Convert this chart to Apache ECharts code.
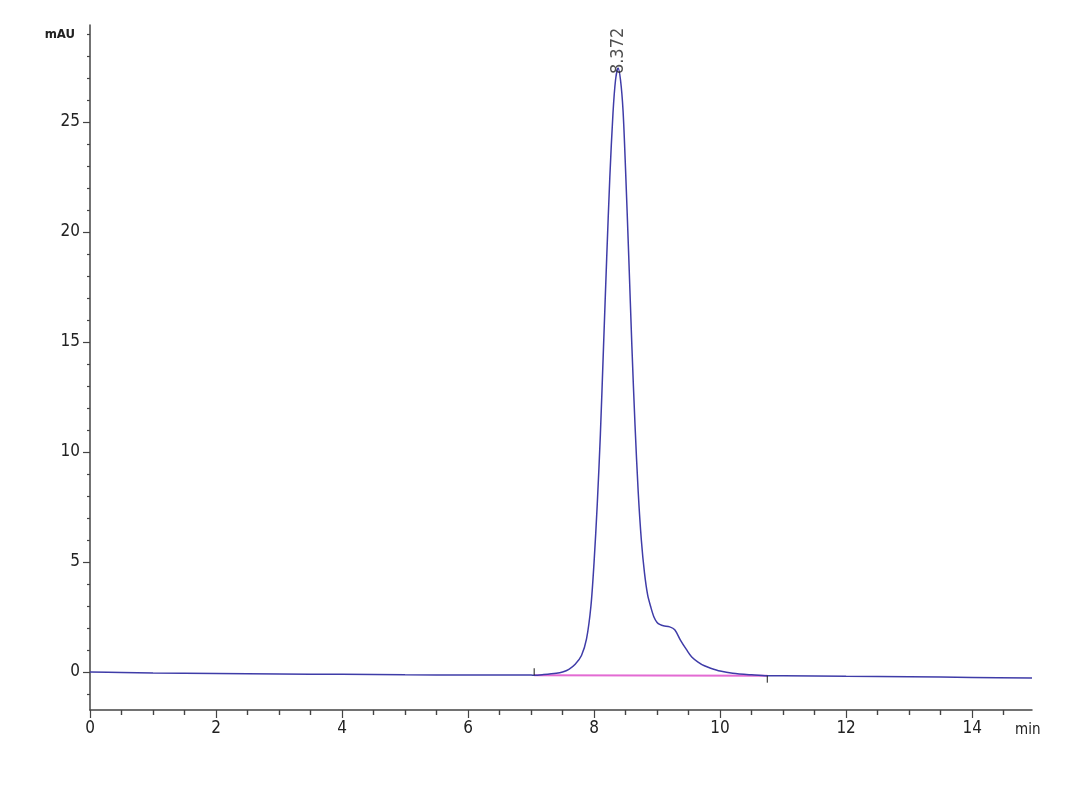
<!DOCTYPE html>
<html>
<head>
<meta charset="utf-8">
<script src="https://cdn.jsdelivr.net/npm/echarts@6/dist/echarts.min.js"></script>
<style>
  html, body { margin: 0; padding: 0; background: #fff; }
  #main { width: 1080px; height: 792px; }
</style>
</head>
<body>
<div id="main"></div>
<script>
// retention time (min) and detector signal (mAU)
const times = [0, 0.5, 1, 2, 3, 4, 5, 6, 7, 7.05, 7.2, 7.4, 7.5, 7.6, 7.7, 7.8, 7.88, 7.95, 8.0, 8.05,
  8.1, 8.15, 8.2, 8.25, 8.3, 8.34, 8.38, 8.42, 8.46, 8.5, 8.55, 8.6, 8.65, 8.7, 8.75, 8.8, 8.85,
  8.9, 8.95, 9.0, 9.05, 9.1, 9.2, 9.28, 9.37, 9.47, 9.55, 9.65, 9.75, 9.85, 10.0, 10.2, 10.5, 10.75,
  11, 12, 13, 14, 14.95];
const signal = [0, -0.02, -0.05, -0.07, -0.09, -0.11, -0.13, -0.14, -0.14, -0.15, -0.12, -0.06, 0.0,
  0.12, 0.35, 0.75, 1.5, 3.0, 5.0, 7.6, 10.8, 14.8, 18.8, 22.5, 25.4, 26.9, 27.45, 26.9, 25.5, 22.8,
  18.9, 14.8, 11.2, 8.2, 6.0, 4.5, 3.5, 2.95, 2.5, 2.25, 2.15, 2.1, 2.05, 1.92, 1.45, 1.0, 0.68, 0.45, 0.28,
  0.17, 0.04, -0.06, -0.13, -0.17, -0.17, -0.2, -0.22, -0.25, -0.28];

// integration baseline of the peak
const baseTimes = [7.05, 10.75];
const baseValues = [-0.15, -0.17];

// peak apex
const peakTime = [8.38];
const peakValue = [27.45];
const peakLabel = ['8.372'];

const xMajor = [0, 2, 4, 6, 8, 10, 12, 14];
const xMinor = [0.5, 1, 1.5, 2.5, 3, 3.5, 4.5, 5, 5.5, 6.5, 7, 7.5, 8.5, 9, 9.5, 10.5, 11, 11.5, 12.5, 13, 13.5, 14.5];
const yMajor = [0, 5, 10, 15, 20, 25];
const yMinor = [-1, 1, 2, 3, 4, 6, 7, 8, 9, 11, 12, 13, 14, 16, 17, 18, 19, 21, 22, 23, 24, 26, 27, 28, 29];

const font = '"DejaVu Sans Condensed", "Liberation Sans", sans-serif';
const axisColor = '#444';

const chart = echarts.init(document.getElementById('main'));

const trace = times.map((t, i) => [t, signal[i]]);
const baseline = baseTimes.map((t, i) => [t, baseValues[i]]);

chart.setOption({
  animation: false,
  backgroundColor: '#fff',
  grid: { left: 90, right: 48, top: 25, bottom: 82 },
  xAxis: [
    {
      type: 'value', min: 0, max: 14.95, position: 'bottom',
      axisLine: { onZero: false, lineStyle: { color: axisColor, width: 1.5 } },
      axisTick: { customValues: xMajor, length: 8, lineStyle: { color: axisColor, width: 1.2 } },
      axisLabel: { customValues: xMajor, color: '#222', fontFamily: font, fontSize: 17, margin: 10 },
      splitLine: { show: false },
      name: 'min', nameLocation: 'end', nameGap: -17,
      nameTextStyle: { color: '#222', fontFamily: font, fontSize: 15, align: 'left', verticalAlign: 'top', padding: [13, 0, 0, 0] }
    },
    {
      type: 'value', min: 0, max: 14.95, position: 'bottom',
      axisLine: { show: false, onZero: false },
      axisTick: { customValues: xMinor, length: 5, lineStyle: { color: axisColor, width: 1.4 } },
      axisLabel: { show: false },
      splitLine: { show: false }
    }
  ],
  yAxis: [
    {
      type: 'value', min: -1.73, max: 29.41, position: 'left',
      axisLine: { show: true, onZero: false, lineStyle: { color: axisColor, width: 1.5 } },
      axisTick: { show: true, customValues: yMajor, length: 7, lineStyle: { color: axisColor, width: 1.2 } },
      axisLabel: { customValues: yMajor, color: '#222', fontFamily: font, fontSize: 17, margin: 10 },
      splitLine: { show: false },
      name: 'mAU', nameLocation: 'end', nameGap: -10,
      nameTextStyle: { color: '#222', fontFamily: font, fontSize: 13, fontWeight: 'bold', align: 'right', verticalAlign: 'middle', padding: [0, 15, 0, 0] }
    },
    {
      type: 'value', min: -1.73, max: 29.41, position: 'left',
      axisLine: { show: false, onZero: false },
      axisTick: { show: true, customValues: yMinor, length: 3, lineStyle: { color: axisColor, width: 1.2 } },
      axisLabel: { show: false },
      splitLine: { show: false }
    }
  ],
  series: [
    {
      name: 'baseline', type: 'line', data: baseline, showSymbol: false, silent: true,
      lineStyle: { color: '#e36bd3', width: 2 }, z: 1
    },
    {
      name: 'signal', type: 'line', data: trace, smooth: 0.3, showSymbol: false,
      lineStyle: { color: '#3f3ca8', width: 1.5 }, z: 2
    },
    {
      name: 'start', type: 'scatter', data: [baseline[0]], symbol: 'rect',
      symbolSize: [1.3, 7], symbolOffset: [0, -3.5], itemStyle: { color: '#222' }, z: 3
    },
    {
      name: 'end', type: 'scatter', data: [baseline[1]], symbol: 'rect',
      symbolSize: [1.3, 7], symbolOffset: [0, 3.5], itemStyle: { color: '#222' }, z: 3
    },
    {
      name: 'apex', type: 'scatter', data: peakTime.map((t, i) => [t, peakValue[i]]),
      symbolSize: 0, z: 4,
      label: {
        show: true, position: 'top', distance: -6, rotate: 90,
        align: 'left', verticalAlign: 'middle',
        formatter: (p) => peakLabel[p.dataIndex],
        color: '#222', fontFamily: font, fontSize: 18
      }
    }
  ]
});
</script>
</body>
</html>
